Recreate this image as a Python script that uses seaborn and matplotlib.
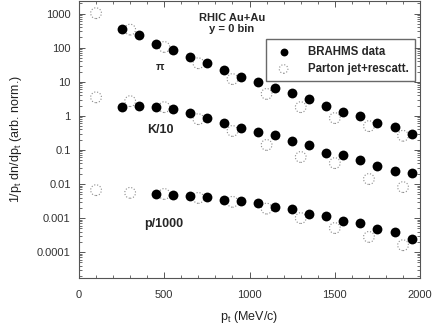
import numpy as np
import pandas as pd
import matplotlib
matplotlib.use("Agg")
import matplotlib.pyplot as plt
import seaborn as sns
from matplotlib.ticker import LogLocator, NullFormatter, MultipleLocator

# BRAHMS data (filled)
pt_data_pi = [250, 350, 450, 550, 650, 750, 850, 950, 1050, 1150, 1250, 1350, 1450, 1550, 1650, 1750, 1850, 1950]
pi_data = [350, 234, 128, 85, 53, 35, 22, 13.7, 9.8, 6.5, 4.7, 3.1, 1.95, 1.3, 1.0, 0.62, 0.47, 0.29]
pt_data_k = pt_data_pi
k_data = [1.81, 1.94, 1.81, 1.59, 1.21, 0.86, 0.61, 0.44, 0.335, 0.27, 0.18, 0.14, 0.081, 0.071, 0.051, 0.034, 0.024, 0.021]
pt_data_p = [450, 550, 650, 750, 850, 950, 1050, 1150, 1250, 1350, 1450, 1550, 1650, 1750, 1850, 1950]
p_data = [0.0051, 0.0048, 0.0045, 0.0042, 0.0034, 0.0032, 0.0028, 0.0021, 0.0019, 0.0013, 0.00115, 0.00083, 0.00072, 0.00048, 0.00039, 0.00024]

# Parton jet + rescattering (open)
pt_model = [100, 300, 500, 700, 900, 1100, 1300, 1500, 1700, 1900]
pi_model = [1030, 340, 105, 35, 12, 4.4, 1.8, 0.86, 0.5, 0.26]
k_model = [3.5, 2.7, 1.8, 0.8, 0.36, 0.14, 0.062, 0.041, 0.014, 0.0081]
p_model = [0.0066, 0.0055, 0.0051, 0.0039, 0.0030, 0.0019, 0.0010, 0.00051, 0.00028, 0.00016]

data = pd.concat([
    pd.DataFrame({"pt": pt_data_pi, "y": pi_data}),
    pd.DataFrame({"pt": pt_data_k, "y": k_data}),
    pd.DataFrame({"pt": pt_data_p, "y": p_data}),
])
model = pd.concat([
    pd.DataFrame({"pt": pt_model, "y": pi_model}),
    pd.DataFrame({"pt": pt_model, "y": k_model}),
    pd.DataFrame({"pt": pt_model, "y": p_model}),
])

sns.set_style("ticks")
plt.rcParams["font.family"] = ["Liberation Sans", "DejaVu Sans"]

fig = plt.figure(figsize=(4.34, 3.27), dpi=100)
ax = fig.add_axes([0.182, 0.150, 0.786, 0.848])

sns.scatterplot(data=model, x="pt", y="y", ax=ax, marker="o", s=60,
                facecolor="none", edgecolor="#8a8a8a", linewidth=0.8,
                linestyle=":", label="Parton jet+rescatt.", zorder=2)
sns.scatterplot(data=data, x="pt", y="y", ax=ax, marker="o", s=50,
                color="black", edgecolor="black", linewidth=0,
                label="BRAHMS data", zorder=3)

ax.set_yscale("log")
ax.set_xlim(0, 2000)
ax.set_ylim(1.75e-5, 2400)

ax.xaxis.set_major_locator(MultipleLocator(500))
ax.xaxis.set_minor_locator(MultipleLocator(100))
ax.set_yticks([1e-4, 1e-3, 1e-2, 0.1, 1, 10, 100, 1000])
ax.set_yticklabels(["0.0001", "0.001", "0.01", "0.1", "1", "10", "100", "1000"])
ax.yaxis.set_minor_locator(LogLocator(base=10, subs=np.arange(2, 10)))
ax.yaxis.set_minor_formatter(NullFormatter())

ax.tick_params(which="both", direction="in", top=True, right=True, colors="#555555",
               labelcolor="#333333", labelsize=8)
ax.tick_params(which="major", length=4, width=0.7)
ax.tick_params(which="minor", length=2.5, width=0.6)
ax.tick_params(axis="x", pad=9)
ax.tick_params(axis="y", pad=6)
for sp in ax.spines.values():
    sp.set_color("#555555")
    sp.set_linewidth(0.8)

ax.set_xlabel("p$_\\mathregular{t}$ (MeV/c)", fontsize=9, color="#222222", labelpad=6)
ax.set_ylabel("1/p$_\\mathregular{t}$ dn/dp$_\\mathregular{t}$ (arb. norm.)", fontsize=9,
              color="#222222", labelpad=9)

ax.text(895, 500, "RHIC Au+Au\ny = 0 bin", ha="center", va="center",
        fontsize=8, fontweight="bold", linespacing=1.1)
ax.text(475, 28, "π", ha="center", va="center", fontsize=8, fontweight="bold")
ax.text(475, 0.38, "K/10", ha="center", va="center", fontsize=9, fontweight="bold")
ax.text(495, 0.00068, "p/1000", ha="center", va="center", fontsize=9, fontweight="bold")

h, l = ax.get_legend_handles_labels()
leg = ax.legend(h[::-1], l[::-1], loc="upper right", bbox_to_anchor=(0.985, 0.86),
                frameon=True, fancybox=False, prop={"weight": "bold", "size": 8.3},
                borderpad=0.55, handletextpad=1.1, labelspacing=0.45, borderaxespad=0,
                markerscale=0.8)
leg.get_frame().set_edgecolor("#444444")
leg.get_frame().set_linewidth(1.0)

fig.savefig("out.png", dpi=100)
